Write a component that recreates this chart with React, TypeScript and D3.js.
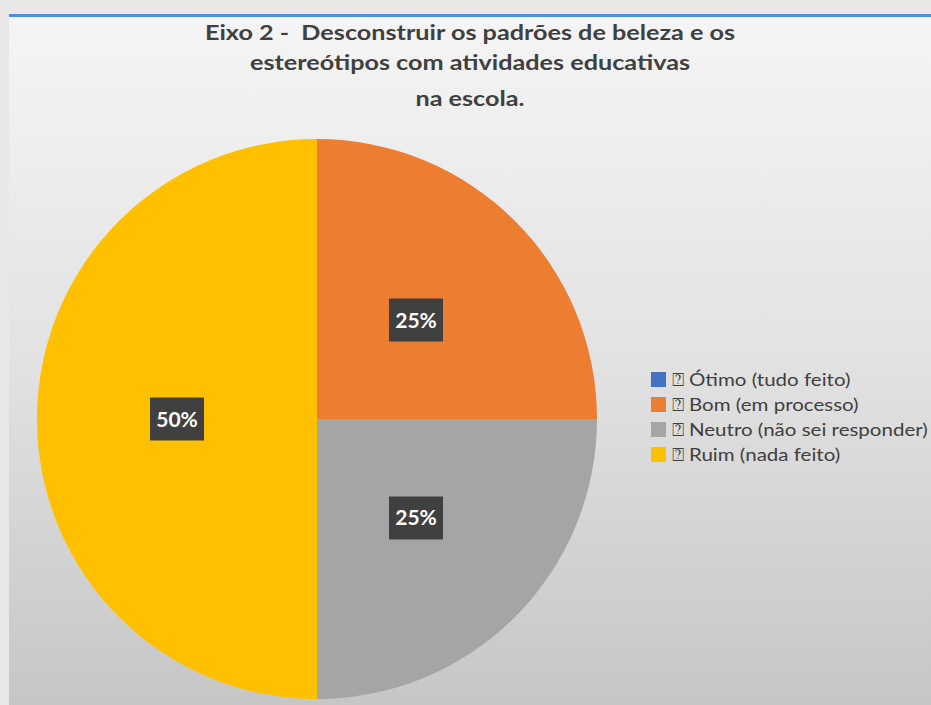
import React from "react";
import * as d3 from "d3";

const titleLines = [
  "Eixo 2 -  Desconstruir os padrões de beleza e os",
  "estereótipos com atividades educativas",
  "na escola.",
];
const categories = [
  "Ótimo (tudo feito)",
  "Bom (em processo)",
  "Neutro (não sei responder)",
  "Ruim (nada feito)",
];
const values = [0, 25, 25, 50];
const colors = ["#4472C4", "#ED7D31", "#A5A5A5", "#FFC000"];

const W = 931;
const H = 705;
const cx = 317;
const cy = 419;
const R = 280;
const FONT = "Lato, 'Open Sans', sans-serif";
const titleBaselines = [40, 70, 106];

export default function App() {
  const pie = d3.pie<number>().sort(null).value((d) => d);
  const arcs = pie(values);
  const arcGen = d3.arc<d3.PieArcDatum<number>>().innerRadius(0).outerRadius(R);
  const labelArc = d3
    .arc<d3.PieArcDatum<number>>()
    .innerRadius(R * 0.5)
    .outerRadius(R * 0.5);
  const total = d3.sum(values);
  const fmt = d3.format(".0%");

  return (
    <svg
      width={W}
      height={H}
      style={{ position: "absolute", left: 0, top: 0, display: "block" }}
    >
      <defs>
        <linearGradient id="bg" x1="0" y1="0" x2="0" y2="1">
          <stop offset="0" stopColor="#f5f5f5" />
          <stop offset="0.5" stopColor="#e2e2e2" />
          <stop offset="1" stopColor="#c6c6c6" />
        </linearGradient>
      </defs>
      <rect x={0} y={0} width={W} height={H} fill="#e9e8e6" />
      <rect x={9} y={16} width={W - 9} height={H - 16} fill="url(#bg)" />
      <rect x={9} y={14} width={W - 9} height={3} fill="#4a8ee6" />
      {titleLines.map((t, i) => (
        <g key={i} transform={`translate(470,${titleBaselines[i]}) scale(1.2,1)`}>
          <text
            x={0}
            y={0}
            textAnchor="middle"
            fontFamily={FONT}
            fontWeight="bold"
            fontSize={21}
            fill="#404040"
            style={{ whiteSpace: "pre" }}
          >
            {t}
          </text>
        </g>
      ))}
      <g transform={`translate(${cx},${cy})`}>
        {arcs.map((a, i) =>
          a.value > 0 ? (
            <path key={i} d={arcGen(a) || ""} fill={colors[i]} />
          ) : null
        )}
        {arcs.map((a, i) => {
          if (a.value <= 0) return null;
          const [x, y] = labelArc.centroid(a);
          return (
            <g key={"l" + i} transform={`translate(${x},${y})`}>
              <rect x={-27} y={-21.5} width={54} height={43} fill="#404040" />
              <text
                x={0}
                y={7.5}
                textAnchor="middle"
                fontFamily={FONT}
                fontWeight="bold"
                fontSize={21}
                fill="#ffffff"
              >
                {fmt(a.value / total)}
              </text>
            </g>
          );
        })}
      </g>
      <g transform="translate(651,372)">
        {categories.map((c, i) => (
          <g key={c} transform={`translate(0,${i * 25})`}>
            <rect x={0} y={0} width={15} height={15} fill={colors[i]} />
            <g transform="translate(21,14) scale(1.14,1)">
              <text
                x={0}
                y={0}
                fontFamily={FONT}
                fontSize={18}
                fill="#404040"
              >
                {"⍰ " + c}
              </text>
            </g>
          </g>
        ))}
      </g>
    </svg>
  );
}
